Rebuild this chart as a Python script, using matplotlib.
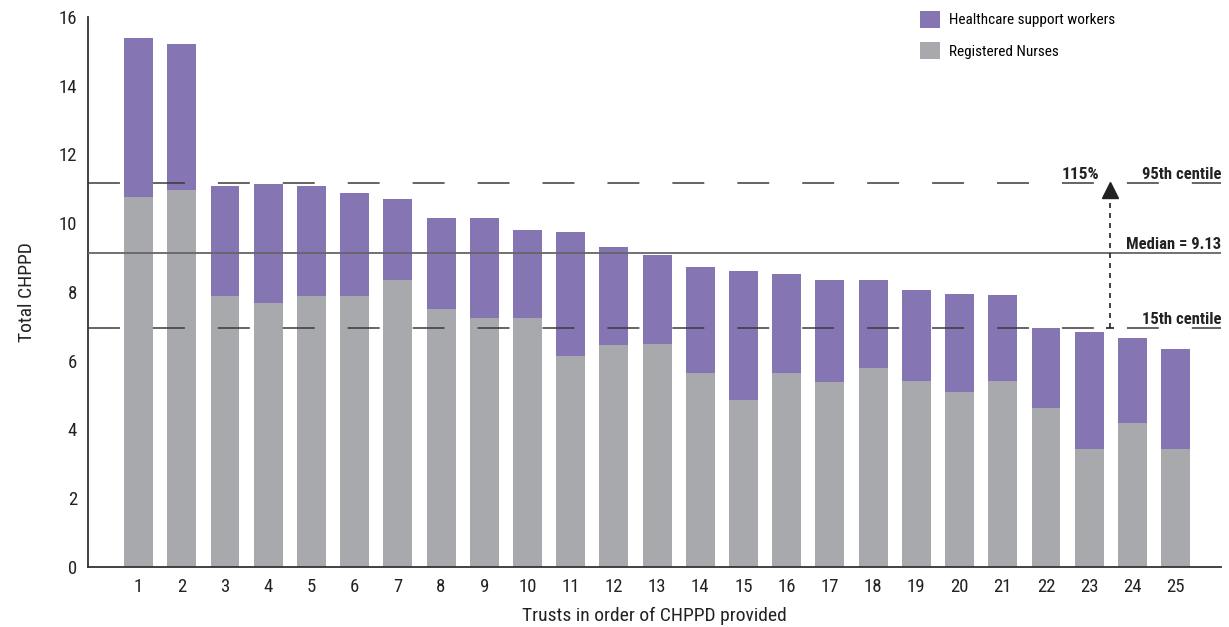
import matplotlib
matplotlib.use('Agg')
import matplotlib.pyplot as plt
from matplotlib import font_manager

# values
trusts = list(range(1, 26))
nurses = [10.76, 10.97, 7.88, 7.68, 7.88, 7.88, 8.35, 7.51, 7.24, 7.24,
          6.14, 6.46, 6.49, 5.64, 4.86, 5.64, 5.38, 5.79, 5.41, 5.09,
          5.41, 4.63, 3.43, 4.19, 3.43]
totals = [15.39, 15.22, 11.08, 11.14, 11.08, 10.88, 10.71, 10.15, 10.15, 9.80,
          9.75, 9.31, 9.08, 8.73, 8.61, 8.52, 8.35, 8.35, 8.06, 7.94,
          7.91, 6.94, 6.84, 6.66, 6.34]
hcsw = [t - n for t, n in zip(totals, nurses)]

centile_95 = 11.17
median = 9.13
centile_15 = 6.94

purple = '#8675B3'
grey = '#A8A9AC'

# pick a narrow font if one is around
installed = {f.name for f in font_manager.fontManager.ttflist}
fams = [f for f in ['Roboto Condensed', 'Liberation Sans Narrow', 'Open Sans Condensed',
                    'DejaVu Sans Condensed', 'Liberation Sans'] if f in installed]
plt.rcParams['font.family'] = fams + ['DejaVu Sans']

fig = plt.figure(figsize=(12.29, 6.27), dpi=100)
ax = fig.add_axes([0.0716, 0.0957, 0.9219, 0.8772])

ax.bar(trusts, nurses, width=0.67, color=grey, label='Registered Nurses', zorder=2)
ax.bar(trusts, hcsw, width=0.67, bottom=nurses, color=purple,
       label='Healthcare support workers', zorder=2)

# reference lines (dash lengths are scaled by linewidth)
ax.axhline(centile_95, color='#3a3a3a', lw=1.1, ls=(0, (20.9, 21.6)), zorder=3)
ax.axhline(centile_15, color='#3a3a3a', lw=1.1, ls=(0, (20.9, 21.6)), zorder=3)
ax.axhline(median, color='#666666', lw=1.3, zorder=3)

lbl = dict(fontsize=12, fontweight='bold', color='#222222', ha='right',
           va='baseline', transform=ax.get_yaxis_transform())
ax.text(1.0, centile_95 + 0.12, '95th centile', **lbl)
ax.text(1.0, median + 0.12, 'Median = 9.13', **lbl)
ax.text(1.0, centile_15 + 0.12, '15th centile', **lbl)

# arrow from 15th to 95th centile
arrow_x = 23.49
ax.plot([arrow_x, arrow_x], [centile_15, 10.8], color='#222222', lw=1.2,
        ls=(0, (3, 3)), zorder=4)
ax.plot(arrow_x, 10.98, marker='^', ms=11, color='#222222', zorder=4)
ax.plot(arrow_x, centile_15, marker='_', ms=6, mew=1.2, color='#222222', zorder=4)
ax.text(23.23, centile_95 + 0.12, '115%', fontsize=12.5, fontweight='bold',
        color='#222222', ha='right', va='baseline')

ax.set_xlim(-0.17, 26.05)
ax.set_ylim(0, 16)
ax.set_xticks(trusts)
ax.set_yticks(range(0, 17, 2))
ax.tick_params(length=0, labelsize=13.5, colors='#222222')
ax.tick_params(axis='x', pad=8)
ax.tick_params(axis='y', pad=8)

for s in ['top', 'right']:
    ax.spines[s].set_visible(False)
for s in ['left', 'bottom']:
    ax.spines[s].set_color('#333333')
    ax.spines[s].set_linewidth(1.3)

ax.set_xlabel('Trusts in order of CHPPD provided', fontsize=14, color='#222222', labelpad=8)
ax.set_ylabel('Total CHPPD', fontsize=14, color='#222222', labelpad=16)

handles, labels = ax.get_legend_handles_labels()
ax.legend(handles[::-1], labels[::-1], loc='upper left', bbox_to_anchor=(0.722, 1.036),
          frameon=False, fontsize=11, handlelength=1.3, handleheight=1.3,
          labelspacing=0.95, handletextpad=0.6)

fig.savefig('out.png', dpi=100)
